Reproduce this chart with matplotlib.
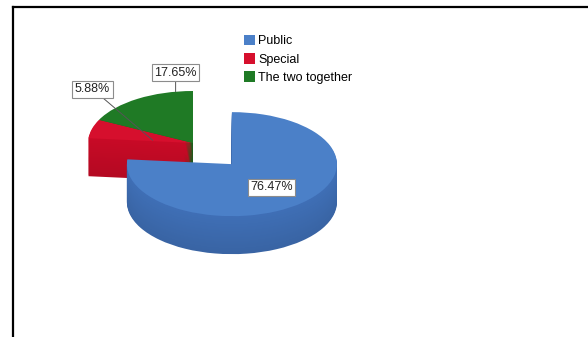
import numpy as np
import matplotlib
matplotlib.use("Agg")
import matplotlib.pyplot as plt
from matplotlib.patches import Patch
from matplotlib.lines import Line2D
from matplotlib.colors import to_rgb

# ---- data ----
categories = ["Public", "Special", "The two together"]
values = [76.47, 5.88, 17.65]
pct_labels = ["76.47%", "5.88%", "17.65%"]

# ---- style ----
top_colors = ["#4b80c8", "#d60f2d", "#1f7a25"]
side_colors = ["#3f6fb6", "#c80a26", "#17631c"]
explode = [0.55, 0.0, 0.0]
W, H, DPI = 588, 337, 100
cx_px, cy_px, rx_px, ry_px = 193, 143, 105, 52
depth = 38 / ry_px
n_layers = 40

plt.rcParams["font.family"] = ["Liberation Sans", "DejaVu Sans"]
fig = plt.figure(figsize=(W / DPI, H / DPI), dpi=DPI)
ax = fig.add_axes([0, 0, 1, 1])


def shade(c, f):
    r, g, b = to_rgb(c)
    return (r * f, g * f, b * f)


# extruded sides (drawn bottom to top)
for k in range(n_layers, 0, -1):
    d = depth * k / n_layers
    f = 0.9 + 0.1 * (1 - k / n_layers)
    ax.pie(values, startangle=90, counterclock=False, explode=explode,
           center=(0, -d), radius=1,
           colors=[shade(c, f) for c in side_colors],
           wedgeprops=dict(linewidth=0, antialiased=True))
# top faces
wedges, _ = ax.pie(values, startangle=90, counterclock=False, explode=explode,
                   center=(0, 0), radius=1, colors=top_colors,
                   wedgeprops=dict(linewidth=0))

ax.set_aspect("auto")
ax.set_xlim(-cx_px / rx_px, (W - cx_px) / rx_px)
ax.set_ylim((cy_px - H) / ry_px, cy_px / ry_px)
ax.axis("off")

# label anchors computed from wedge angles
tot = sum(values)
starts = 90 - 360 * np.cumsum([0] + values[:-1]) / tot
spans = 360 * np.array(values) / tot
bbox = dict(boxstyle="square,pad=0.2", fc="white", ec="#8c8c8c", lw=0.8)

# Public: inside the slice
mid = np.deg2rad(starts[0] - spans[0] / 2)
ox, oy = explode[0] * np.cos(mid), explode[0] * np.sin(mid)
ax.text(ox + 0.56 * np.cos(mid), oy + 0.6 * np.sin(mid), pct_labels[0],
        ha="center", va="center", fontsize=9, color="#222222", bbox=bbox)

# Special: leader line to box at upper left
mid = np.deg2rad(starts[1] - spans[1] / 2)
ax.annotate(pct_labels[1], xy=(0.4 * np.cos(mid), 0.2 * np.sin(mid)),
            xytext=(-60, 51), textcoords="offset pixels",
            ha="center", va="center", fontsize=9, color="#222222", bbox=bbox,
            arrowprops=dict(arrowstyle="-", color="#555555", lw=0.7,
                            shrinkA=0, shrinkB=0))

# The two together: short vertical leader from the rim
ang = np.deg2rad(starts[2] - 0.85 * spans[2])
ax.annotate(pct_labels[2], xy=(np.cos(ang), np.sin(ang)),
            xytext=(0, 19), textcoords="offset pixels",
            ha="center", va="center", fontsize=9, color="#222222", bbox=bbox,
            arrowprops=dict(arrowstyle="-", color="#555555", lw=0.7,
                            shrinkA=0, shrinkB=0))

# legend
handles = [Patch(facecolor=c, edgecolor="none") for c in top_colors]
fig.legend(handles, categories, loc="upper left",
           bbox_to_anchor=(244 / W, 1 - 35 / H), frameon=False,
           fontsize=9, handlelength=0.9, handleheight=0.9,
           handletextpad=0.25, labelspacing=0.45, borderpad=0,
           borderaxespad=0)

# chart frame (top and left edges)
fig.add_artist(Line2D([13 / W, 1], [1 - 6.5 / H, 1 - 6.5 / H],
                      transform=fig.transFigure, color="black", lw=1.6))
fig.add_artist(Line2D([13 / W, 13 / W], [0, 1 - 6.5 / H],
                      transform=fig.transFigure, color="black", lw=1.6))

fig.savefig("out.png", dpi=DPI)
